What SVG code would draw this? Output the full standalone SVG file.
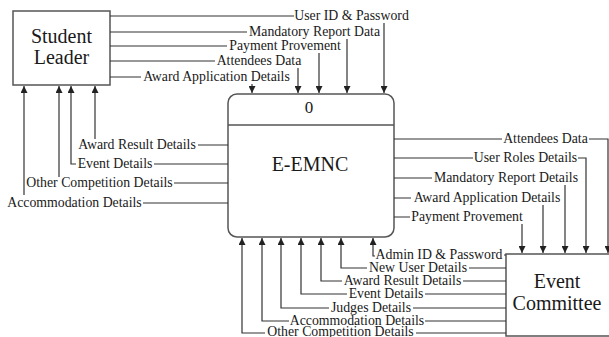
<svg xmlns="http://www.w3.org/2000/svg" width="609" height="337" viewBox="0 0 609 337">
<defs>
<marker id="arr" viewBox="0 0 8 8" refX="8" refY="4" markerWidth="7" markerHeight="7" markerUnits="userSpaceOnUse" orient="auto">
<path d="M0,0 L8,4 L0,8 z" fill="#222"/>
</marker>
</defs>
<rect width="609" height="337" fill="#fff"/>
<g font-family="Liberation Serif" fill="#1a1a1a" text-anchor="middle" font-size="20">
<g id="student-leader">
<rect x="13" y="11" width="97" height="74" fill="#fff" stroke="#555" stroke-width="1.5"/>
<text x="61.5" y="43">Student</text>
<text x="61.5" y="64">Leader</text>
</g>
<g id="e-emnc">
<rect x="228" y="94" width="166" height="143" rx="9" fill="#fff" stroke="#555" stroke-width="1.5"/>
<line x1="228" y1="125" x2="394" y2="125" stroke="#555" stroke-width="1.3"/>
<text x="309" y="113" font-size="17">0</text>
<text x="310" y="171">E-EMNC</text>
</g>
<g id="event-committee">
<rect x="506" y="254" width="120" height="82" fill="#fff" stroke="#555" stroke-width="1.5"/>
<text x="557" y="288">Event</text>
<text x="557" y="310">Committee</text>
</g>
</g>
<g id="connectors" fill="none" stroke="#333" stroke-width="1.2">
<g id="lines">
<path d="M110,16 H294 M110,32 H247 M110,46 H227 M110,61 H215 M110,77 H141"/>
<path d="M228,145 H198 M228,164 H154 M228,183 H174 M228,203 H143"/>
<path d="M394,139 H502 M394,158 H473 M394,178 H432 M394,198 H411 M394,217 H410"/>
<path d="M506,255 H504 M506,268 H469 M506,281 H463 M506,294 H425 M506,308 H413 M506,321 H425 M506,333 H416"/>
</g>
<g id="arrows" marker-end="url(#arr)">
<path d="M384,23 V93"/><path d="M347,39 V93"/><path d="M319,53 V93"/><path d="M298,68 V93"/><path d="M252,84 V93"/>
<path d="M95,139 V86"/><path d="M76,164 H71 V86"/><path d="M59,177 V86"/><path d="M24,195 V86"/>
<path d="M589,139 H608 V253"/><path d="M578,158 H586 V253"/><path d="M565,185 V253"/><path d="M543,205 V253"/><path d="M522,224 V253"/>
<path d="M375,256 H373 V238"/><path d="M367,268 H341 V238"/><path d="M342,281 H321 V238"/><path d="M347,294 H301 V238"/><path d="M329,308 H281 V238"/><path d="M289,321 H262 V238"/><path d="M265,333 H242 V238"/>
</g>
<g id="labels" font-family="Liberation Serif" font-size="13.8" fill="#1a1a1a" stroke="none" text-anchor="middle">
<text x="351.5" y="20">User ID &amp; Password</text>
<text x="314.5" y="36">Mandatory Report Data</text>
<text x="285" y="50">Payment Provement</text>
<text x="259" y="65">Attendees Data</text>
<text x="216.5" y="81">Award Application Details</text>
<text x="137" y="149">Award Result Details</text>
<text x="115" y="168">Event Details</text>
<text x="99.5" y="187">Other Competition Details</text>
<text x="74.5" y="207">Accommodation Details</text>
<text x="545.5" y="143">Attendees Data</text>
<text x="525.5" y="162">User Roles Details</text>
<text x="506" y="182">Mandatory Report Details</text>
<text x="487" y="202">Award Application Details</text>
<text x="467" y="221">Payment Provement</text>
<text x="439" y="259">Admin ID &amp; Password</text>
<text x="418" y="272">New User Details</text>
<text x="402.5" y="285">Award Result Details</text>
<text x="386" y="298">Event Details</text>
<text x="371" y="312">Judges Details</text>
<text x="357" y="325">Accommodation Details</text>
<text x="340.5" y="336">Other Competition Details</text>
</g>
</g>
</svg>
